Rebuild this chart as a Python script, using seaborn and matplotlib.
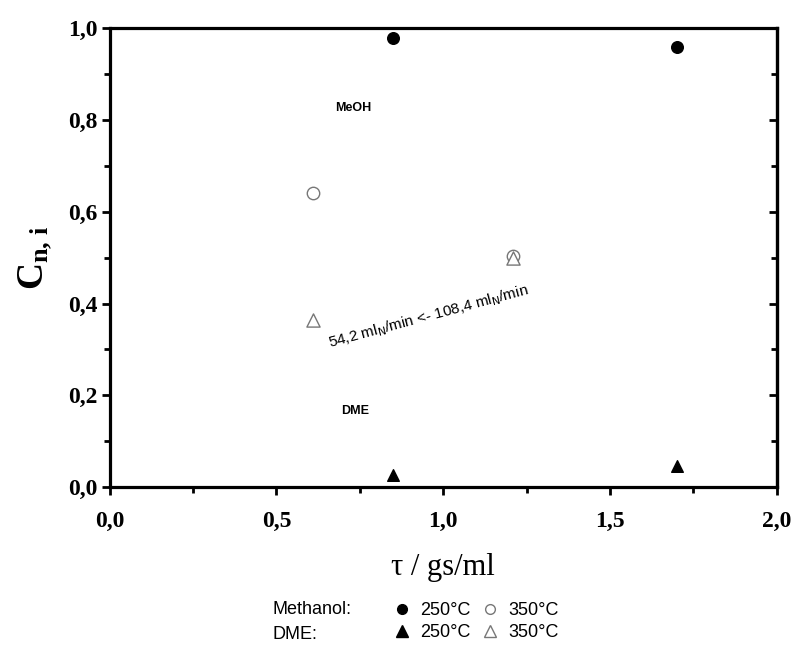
import matplotlib
matplotlib.use("Agg")
import matplotlib.pyplot as plt
from matplotlib.lines import Line2D
from matplotlib.ticker import MultipleLocator, FuncFormatter
import seaborn as sns
import pandas as pd

# Data (tau in gs/ml, C_n,i)
meoh_250_x = [0.85, 1.70]
meoh_250_y = [0.978, 0.958]
meoh_350_x = [0.61, 1.21]
meoh_350_y = [0.640, 0.503]
dme_250_x = [0.85, 1.70]
dme_250_y = [0.027, 0.047]
dme_350_x = [0.61, 1.21]
dme_350_y = [0.364, 0.500]

sns.set_theme(style="white")
plt.rcParams['font.family'] = ['Liberation Sans', 'DejaVu Sans']
plt.rcParams['text.color'] = 'black'
plt.rcParams['axes.labelcolor'] = 'black'
plt.rcParams['xtick.color'] = 'black'
plt.rcParams['ytick.color'] = 'black'
plt.rcParams['mathtext.fontset'] = 'custom'
plt.rcParams['mathtext.bf'] = 'Liberation Serif:bold'
plt.rcParams['mathtext.rm'] = 'Liberation Serif'
plt.rcParams['mathtext.it'] = 'Liberation Serif:italic'

fig = plt.figure(figsize=(7.95, 6.53), dpi=100)
ax = fig.add_axes([0.138, 0.254, 0.839, 0.703])

def sc(x, y, marker, face, edge, size):
    df = pd.DataFrame({"x": x, "y": y})
    sns.scatterplot(data=df, x="x", y="y", ax=ax, marker=marker, s=size,
                    color=face, edgecolor=edge, linewidth=1.0, zorder=3)

sc(meoh_250_x, meoh_250_y, "o", "black", "black", 70)
sc(meoh_350_x, meoh_350_y, "o", "white", "#777777", 80)
sc(dme_250_x, dme_250_y, "^", "black", "black", 70)
sc(dme_350_x, dme_350_y, "^", "white", "#777777", 90)

ax.set_xlim(0, 2.0)
ax.set_ylim(0, 1.0)
ax.xaxis.set_major_locator(MultipleLocator(0.5))
ax.xaxis.set_minor_locator(MultipleLocator(0.25))
ax.yaxis.set_major_locator(MultipleLocator(0.2))
ax.yaxis.set_minor_locator(MultipleLocator(0.1))
fmt = FuncFormatter(lambda v, p: f"{v:.1f}".replace(".", ","))
ax.xaxis.set_major_formatter(fmt)
ax.yaxis.set_major_formatter(fmt)

for s in ax.spines.values():
    s.set_linewidth(2.3)
    s.set_color("black")

ax.tick_params(axis="both", which="both", direction="out", color="black",
               left=True, bottom=True, right=False, top=False, width=2.0)
ax.tick_params(which="major", length=6)
ax.tick_params(which="minor", length=4)
ax.tick_params(axis="x", which="major", pad=11)
ax.tick_params(axis="y", which="major", pad=3)
for lab in ax.get_xticklabels() + ax.get_yticklabels():
    lab.set_fontfamily("Liberation Serif")
    lab.set_fontweight("bold")
    lab.set_fontsize(17)

# right inward ticks
axr = ax.secondary_yaxis("right")
axr.yaxis.set_major_locator(MultipleLocator(0.2))
axr.yaxis.set_minor_locator(MultipleLocator(0.1))
axr.tick_params(which="both", direction="in", width=2.0, labelright=False)
axr.tick_params(which="major", length=6)
axr.tick_params(which="minor", length=4)
axr.spines["right"].set_linewidth(2.3)

ax.set_xlabel("τ / gs/ml", fontfamily="Liberation Serif", fontsize=22, labelpad=15)
ax.set_ylabel(r"$\mathbf{C_{n,\,i}}$", fontsize=27, labelpad=10)

ax.text(0.73, 0.826, "MeOH", fontsize=9, fontweight="bold", ha="center", va="center")
ax.text(0.735, 0.166, "DME", fontsize=9, fontweight="bold", ha="center", va="center")
ax.text(0.955, 0.37, r"54,2 ml$_{\mathsf{N}}$/min <- 108,4 ml$_{\mathsf{N}}$/min",
        fontsize=11, ha="center", va="center", rotation=15, rotation_mode="anchor")

# legend block
fig.text(0.343, 0.067, "Methanol:", fontsize=13, va="center", ha="left")
fig.text(0.343, 0.028, "DME:", fontsize=13, va="center", ha="left")
handles = [
    Line2D([], [], ls="none", marker="o", mfc="black", mec="black", ms=7),
    Line2D([], [], ls="none", marker="^", mfc="black", mec="black", ms=8),
    Line2D([], [], ls="none", marker="o", mfc="white", mec="#777777", ms=7),
    Line2D([], [], ls="none", marker="^", mfc="white", mec="#777777", ms=8),
]
labels = ["250°C", "250°C", "350°C", "350°C"]
fig.legend(handles, labels, ncol=2, loc="center left", bbox_to_anchor=(0.483, 0.048),
           frameon=False, fontsize=13, handlelength=1.0, handletextpad=0.5,
           columnspacing=0.6, labelspacing=0.3, borderpad=0)

fig.savefig("out.png", dpi=100)
